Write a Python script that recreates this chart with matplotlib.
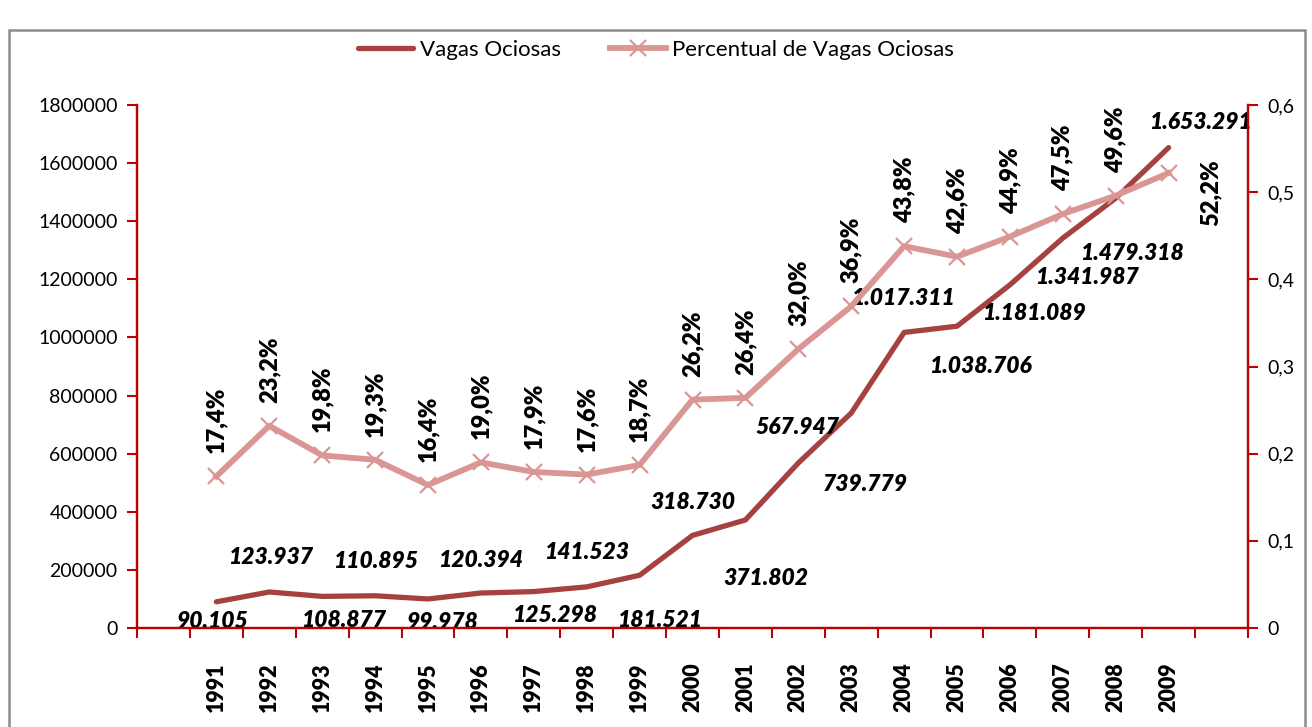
import matplotlib.pyplot as plt
from matplotlib.patches import Rectangle

plt.rcParams['font.family'] = ['Lato', 'DejaVu Sans']

anos = [1991, 1992, 1993, 1994, 1995, 1996, 1997, 1998, 1999, 2000,
        2001, 2002, 2003, 2004, 2005, 2006, 2007, 2008, 2009]
vagas = [90105, 123937, 108877, 110895, 99978, 120394, 125298, 141523, 181521,
         318730, 371802, 567947, 739779, 1017311, 1038706, 1181089, 1341987,
         1479318, 1653291]
percentual = [17.4, 23.2, 19.8, 19.3, 16.4, 19.0, 17.9, 17.6, 18.7, 26.2,
              26.4, 32.0, 36.9, 43.8, 42.6, 44.9, 47.5, 49.6, 52.2]

# posicao dos rotulos (pixels, como no grafico do Excel)
off_vagas = [(-4, 20), (1, -34), (21, 24), (0, -34), (15, 24), (0, -33),
             (21, 24), (0, -34), (20, 45), (0, -33), (20, 59), (-1, -35),
             (14, 71), (-1, -34), (23, 40), (24, 29), (24, 39), (16, 55),
             (32, -25)]

vermelho = '#C00000'
escuro = '#A5423F'
rosa = '#D99694'

fig = plt.figure(figsize=(13.12, 7.27), dpi=100)
fig.patches.append(Rectangle((9 / 1312, -0.05), 1296 / 1312, 1.05 - 30 / 727,
                             transform=fig.transFigure, fill=False,
                             edgecolor='#8c8c8c', linewidth=1.8))

ax = fig.add_axes([137 / 1312, 1 - 628 / 727, 1111 / 1312, 523 / 727])
ax2 = ax.twinx()

x = list(range(1, len(anos) + 1))
l1, = ax.plot(x, vagas, color=escuro, lw=3.8, solid_capstyle='round',
              label='Vagas Ociosas', zorder=3)
l2, = ax2.plot(x, [p / 100 for p in percentual], color=rosa, lw=4.2,
               marker='x', markersize=11, markeredgewidth=1.6,
               label='Percentual de Vagas Ociosas', zorder=2)

ax.set_xlim(-0.5, 20.5)
ax.set_ylim(0, 1800000)
ax2.set_ylim(0, 0.6)
ax.set_yticks(range(0, 1800001, 200000))
ax.set_yticklabels([str(v) for v in range(0, 1800001, 200000)])
ax2.set_yticks([i / 10 for i in range(7)])
ax2.set_yticklabels(['0'] + ['0,%d' % i for i in range(1, 7)])

ax.set_xticks([i - 0.5 for i in range(22)])
ax.set_xticklabels([])
ax.set_xticks(x, minor=True)
ax.set_xticklabels([str(a) for a in anos], minor=True, rotation=90,
                   fontsize=15.5, fontweight='heavy')
ax.tick_params(axis='x', which='minor', length=0, pad=25)
ax.tick_params(axis='x', which='major', length=7, width=1.5, color=vermelho)
ax.tick_params(axis='y', length=7, width=1.5, color=vermelho, labelsize=14, pad=7)
ax2.tick_params(axis='y', length=7, width=1.5, color=vermelho, labelsize=14, pad=7)

for a in (ax, ax2):
    a.spines['top'].set_visible(False)
    for s in ('left', 'right', 'bottom'):
        a.spines[s].set_color(vermelho)
        a.spines[s].set_linewidth(1.6)

for xi, v, off in zip(x, vagas, off_vagas):
    ax.annotate(f'{v:,}'.replace(',', '.'), (xi, v), xytext=(off[0], -off[1]),
                textcoords='offset pixels', ha='center', va='center',
                fontsize=16.5, fontweight='heavy', fontstyle='italic', zorder=5)

for xi, p in zip(x[:-1], percentual[:-1]):
    ax2.annotate(f'{p:.1f}%'.replace('.', ','), (xi, p / 100), xytext=(0, 23),
                 textcoords='offset pixels', ha='center', va='bottom',
                 rotation=90, fontsize=17, fontweight='heavy')
ax2.annotate(f'{percentual[-1]:.1f}%'.replace('.', ','), (x[-1], percentual[-1] / 100),
             xytext=(42, -20), textcoords='offset pixels', ha='center',
             va='center', rotation=90, fontsize=17, fontweight='heavy')

fig.legend(handles=[l1, l2], loc='center', bbox_to_anchor=(0.5, 1 - 50 / 727),
           ncol=2, frameon=False, fontsize=16, handlelength=2.5,
           handletextpad=0.3, columnspacing=2.2)

fig.savefig('out.png', dpi=100)
